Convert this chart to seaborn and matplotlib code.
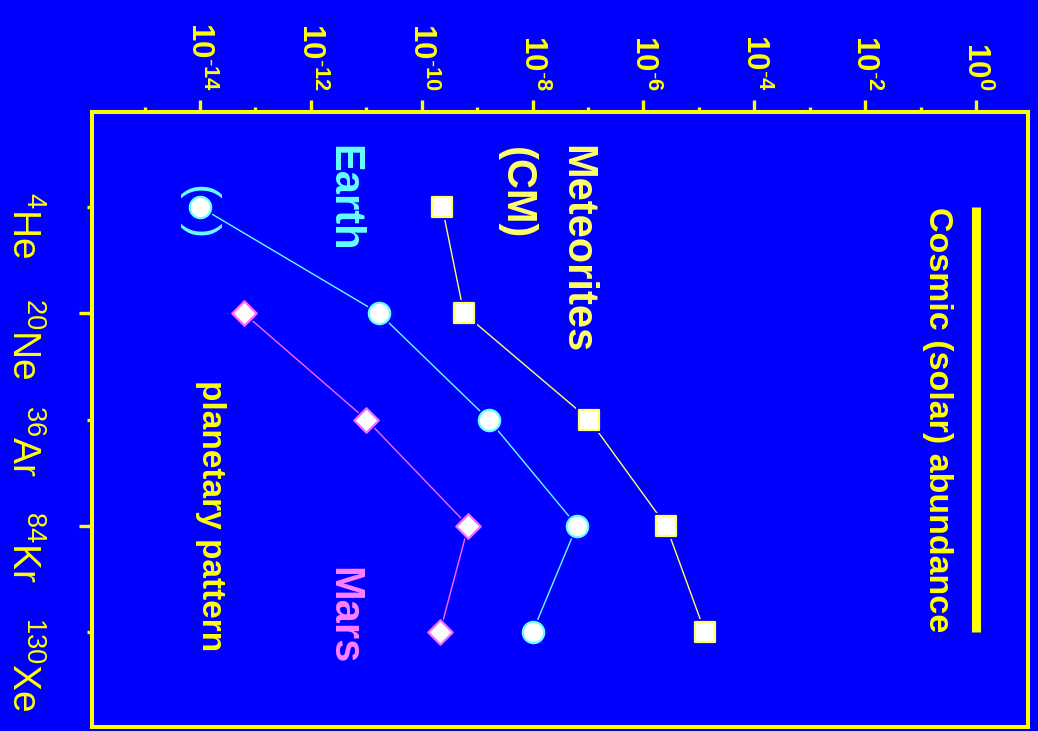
import numpy as np
import pandas as pd
import matplotlib
matplotlib.use("Agg")
import matplotlib.pyplot as plt
from matplotlib.ticker import FixedLocator, FixedFormatter, NullFormatter
import seaborn as sns

# ---- data: noble-gas abundances (log10, relative to solar = 1) ----
isotopes = ["4He", "20Ne", "36Ar", "84Kr", "130Xe"]
isotope_labels = [r"${}^{4}\mathrm{He}$", r"${}^{20}\mathrm{Ne}$", r"${}^{36}\mathrm{Ar}$",
                  r"${}^{84}\mathrm{Kr}$", r"${}^{130}\mathrm{Xe}$"]
meteorites_log = [-9.63, -9.24, -6.98, -5.59, -4.89]
earth_log = [-14.0, -10.77, -8.79, -7.20, -8.00]
mars_isotopes = ["20Ne", "36Ar", "84Kr", "130Xe"]
mars_log = [-13.21, -11.00, -9.16, -9.67]
cosmic_log = [0.0, 0.0, 0.0, 0.0, 0.0]
major_decades = [-14, -12, -10, -8, -6, -4, -2, 0]
minor_decades = [-15, -13, -11, -9, -7, -5, -3, -1]
decade_labels = [r"$\mathbf{10^{\text{-}14}}$", r"$\mathbf{10^{\text{-}12}}$",
                 r"$\mathbf{10^{\text{-}10}}$", r"$\mathbf{10^{\text{-}8}}$",
                 r"$\mathbf{10^{\text{-}6}}$", r"$\mathbf{10^{\text{-}4}}$",
                 r"$\mathbf{10^{\text{-}2}}$", r"$\mathbf{10^{0}}$"]

BG = "#0000FF"
YELLOW = "#FFFF00"
PALE_YELLOW = "#FFFF66"
CYAN = "#66FFFF"
PINK = "#FF66FF"
PINK_TEXT = "#FF80FF"

sns.set_style("white")
plt.rcParams["font.family"] = ["Liberation Sans", "DejaVu Sans"]
plt.rcParams["mathtext.fontset"] = "custom"
plt.rcParams["mathtext.rm"] = "Liberation Sans"
plt.rcParams["mathtext.it"] = "Liberation Sans:italic"
plt.rcParams["mathtext.bf"] = "Liberation Sans:bold"
plt.rcParams["mathtext.sf"] = "Liberation Sans"

pos = {iso: i for i, iso in enumerate(isotopes)}
df = pd.concat([
    pd.DataFrame({"body": "Meteorites", "isotope": isotopes, "logab": meteorites_log}),
    pd.DataFrame({"body": "Earth", "isotope": isotopes, "logab": earth_log}),
    pd.DataFrame({"body": "Mars", "isotope": mars_isotopes, "logab": mars_log}),
    pd.DataFrame({"body": "Cosmic", "isotope": isotopes, "logab": cosmic_log}),
], ignore_index=True)
df["pos"] = df["isotope"].map(pos)
df["abundance"] = 10.0 ** df["logab"]

fig = plt.figure(figsize=(10.38, 7.31), dpi=100, facecolor=BG)
ax = fig.add_axes([0.0891, 0.00547, 0.9013, 0.8413])
ax.set_facecolor(BG)
ax.set_xscale("log")

styles = {
    "Meteorites": dict(marker="s", s=215, halo=340, line=PALE_YELLOW, edge=PALE_YELLOW),
    "Earth": dict(marker="o", s=235, halo=370, line=CYAN, edge=CYAN),
    "Mars": dict(marker="D", s=155, halo=255, line=PINK, edge=PINK),
}

# solar reference bar
cos = df[df.body == "Cosmic"]
sns.lineplot(data=cos, x="abundance", y="pos", orient="y", color=YELLOW, lw=6.5,
             solid_capstyle="butt", ax=ax, zorder=2)

for body, st in styles.items():
    sub = df[df.body == body]
    sns.lineplot(data=sub, x="abundance", y="pos", orient="y", color=st["line"],
                 lw=1.0, ax=ax, zorder=2)
    # background-coloured halo leaves a small gap between line and marker
    sns.scatterplot(data=sub, x="abundance", y="pos", marker=st["marker"], s=st["halo"],
                    color=BG, edgecolor=BG, linewidth=0, ax=ax, zorder=3)
    sns.scatterplot(data=sub, x="abundance", y="pos", marker=st["marker"], s=st["s"],
                    color="white", edgecolor=st["edge"], linewidth=1.6, ax=ax, zorder=4)

ax.set_xlim(10 ** -15.94, 10 ** 0.94)
ax.set_ylim(4.894, -0.894)
ax.set_xlabel("")
ax.set_ylabel("")

# top log axis
ax.xaxis.tick_top()
ax.xaxis.set_major_locator(FixedLocator([10.0 ** d for d in major_decades]))
ax.xaxis.set_major_formatter(FixedFormatter(decade_labels))
ax.xaxis.set_minor_locator(FixedLocator([10.0 ** d for d in minor_decades]))
ax.xaxis.set_minor_formatter(NullFormatter())
ax.tick_params(axis="x", which="major", direction="out", length=8.6, width=2.4,
               color=YELLOW, labelcolor=YELLOW, labelsize=22.5, pad=7,
               labelrotation=-90, top=True, bottom=False)
ax.tick_params(axis="x", which="minor", direction="out", length=3.6, width=2.4,
               color=YELLOW, top=True, bottom=False)

# isotope axis on the left
ax.yaxis.set_major_locator(FixedLocator(list(range(len(isotopes)))))
ax.yaxis.set_major_formatter(FixedFormatter(isotope_labels))
ax.yaxis.set_minor_locator(FixedLocator([1, 3]))
ax.yaxis.set_minor_formatter(NullFormatter())
ax.yaxis.remove_overlapping_locs = False
ax.tick_params(axis="y", which="major", direction="out", length=3.6, width=2.4,
               color=YELLOW, labelcolor=YELLOW, labelsize=28, pad=33,
               labelrotation=-90, left=True, right=False)
ax.tick_params(axis="y", which="minor", direction="out", length=9.5, width=2.4,
               color=YELLOW, left=True, right=False)

for sp in ax.spines.values():
    sp.set_color(YELLOW)
    sp.set_linewidth(2.9)

# annotations
def note(logx, y, s, color, size, weight="bold"):
    ax.text(10.0 ** logx, y, s, color=color, fontsize=size, fontweight=weight,
            rotation=-90, rotation_mode="anchor", ha="left", va="baseline", zorder=5)

note(-7.415, -0.58, "Meteorites", PALE_YELLOW, 30)
note(-8.50, -0.565, "(CM)", PALE_YELLOW, 30)
note(-11.62, -0.58, "Earth", CYAN, 30)
note(-11.62, 3.39, "Mars", PINK_TEXT, 30)
note(-13.96, 1.63, "planetary pattern", YELLOW, 24)
ax.text(10.0 ** -0.69, 2.0, "Cosmic (solar) abundance", color=YELLOW, fontsize=24.5,
        fontweight="bold", rotation=-90, ha="center", va="center", zorder=5)
ax.text(10.0 ** earth_log[0], 0.03, "(  )", color=CYAN, fontsize=32,
        rotation=-90, rotation_mode="anchor", ha="center", va="center", zorder=5)

fig.savefig("out.png", dpi=100, facecolor=BG)
